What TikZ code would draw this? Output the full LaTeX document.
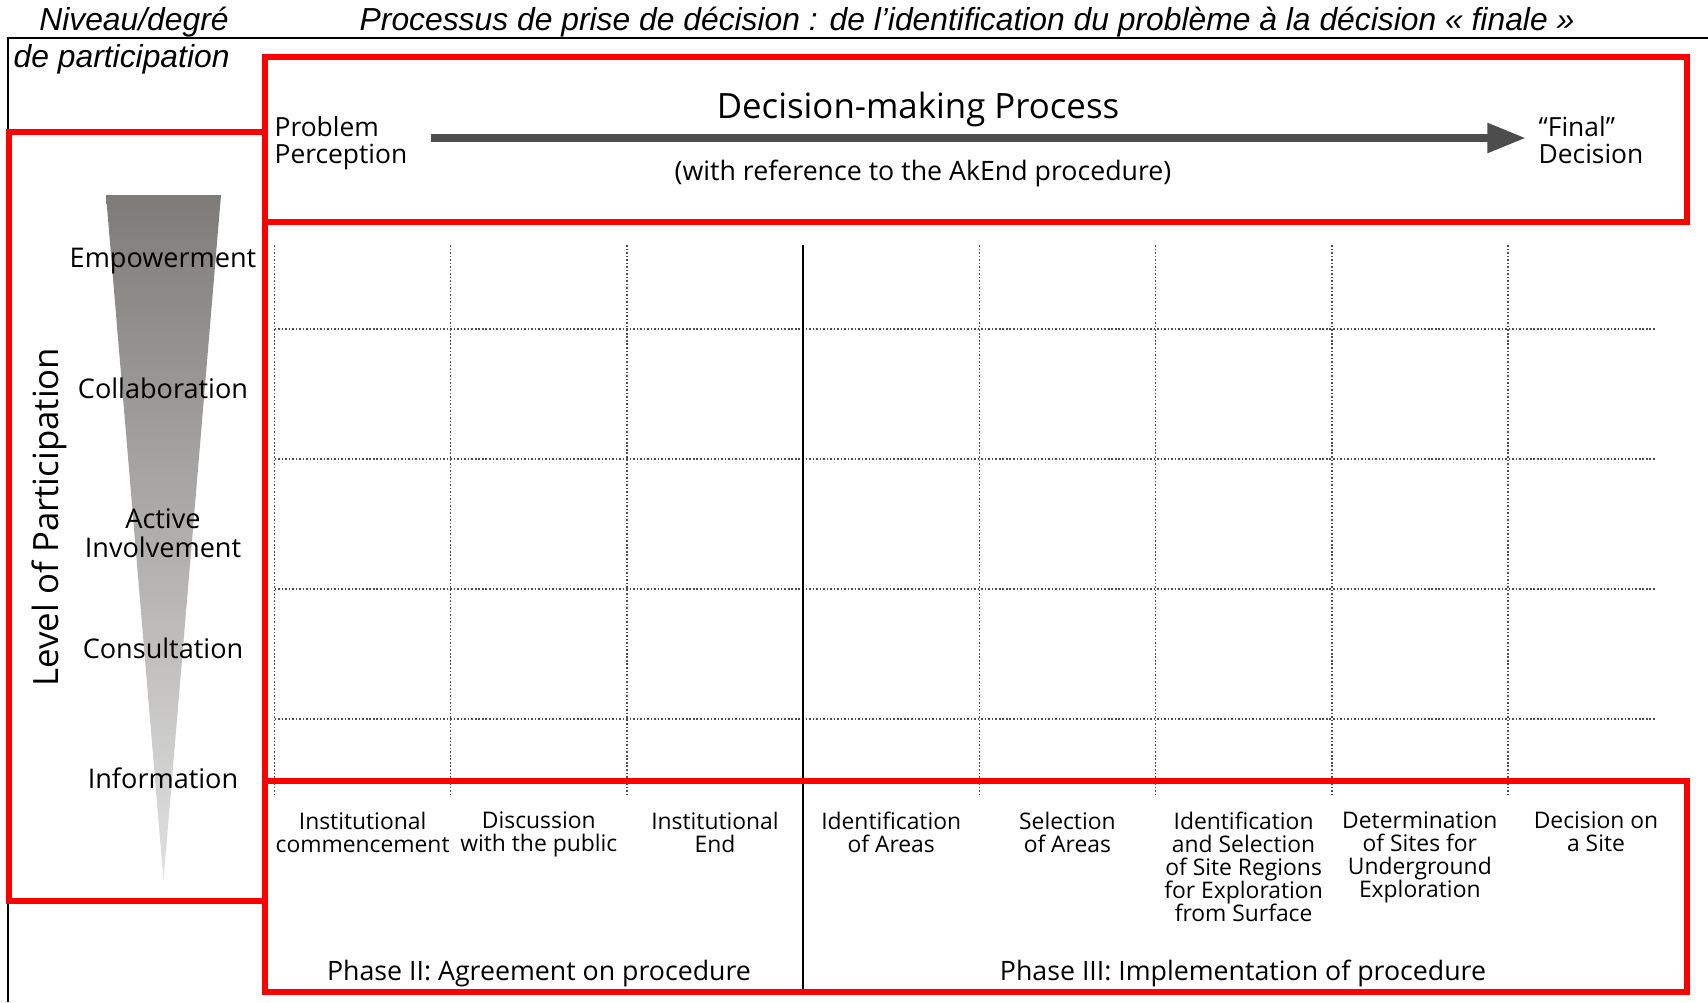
\documentclass[tikz,border=0pt]{standalone}
\usepackage{fontspec}
\setmainfont{Open Sans}
\newfontfamily\frfont{Liberation Sans}
\usetikzlibrary{arrows.meta}
\definecolor{framered}{RGB}{255,0,0}
\definecolor{gridgray}{RGB}{80,80,80}
\definecolor{arrowgray}{RGB}{77,77,77}
\definecolor{wedgetop}{RGB}{126,123,120}
\definecolor{wedgemid}{RGB}{145,145,145}
\definecolor{wedgebot}{RGB}{225,225,225}

\begin{document}
\begin{tikzpicture}[x=0.01cm, y=-0.01cm,
	redbox/.style={draw=framered, line width=1.5pt},
	griddot/.style={draw=gridgray, line width=0.45pt, dash pattern=on 0.45pt off 0.55pt},
	frtext/.style={font=\frfont\itshape\fontsize{9.05}{10}\selectfont, inner sep=0pt},
	levellab/.style={font=\fontsize{7.7}{8.2}\selectfont, inner sep=0pt, anchor=base, align=center},
	steplab/.style={font=\fontsize{6.5}{6.55}\selectfont\setlength{\lineskiplimit}{-5pt}, inner sep=0pt, anchor=north, align=center},
	phaselab/.style={font=\fontsize{7.6}{8}\selectfont, inner sep=0pt, anchor=base},
	endlab/.style={font=\fontsize{7.5}{7.4}\selectfont, inner sep=0pt, anchor=base west, align=left},
	procarrow/.style={draw=arrowgray, line width=2.3pt, -{Triangle[length=11pt,width=8pt]}}]
	\useasboundingbox (0,0) rectangle (1708,1002);
	\draw[line width=0.6pt] (8,1002) -- (8,38) -- (1708,38);
	\node[frtext, anchor=base] (niv) at (134,30) {Niveau/degré};
	\node[frtext, anchor=base west] (part) at (13,67) {de participation};
	\node[frtext, anchor=base west] (proc) at (359,30) {Processus de prise de décision : de l’identification du problème à la décision « finale »};

	\shade[top color=wedgetop, middle color=wedgemid, bottom color=wedgebot] (106,195) -- (221,195) -- (163.5,880) -- cycle;
	\foreach \nm/\y/\lab in {emp/267/Empowerment, coll/398/Collaboration, act/557/{Active\\Involvement}, cons/658/Consultation, info/788/Information}
		\node[levellab] (\nm) at (163,\y) {\lab};
	\node[font=\fontsize{9.9}{10}\selectfont, inner sep=0pt, rotate=90] (lop) at (49,517) {Level of Participation};

	\node[font=\fontsize{9.9}{11}\selectfont, inner sep=0pt, anchor=base] (dmp) at (918,118) {Decision-making Process};
	\node[font=\fontsize{7.6}{8}\selectfont, inner sep=0pt, anchor=base] (akend) at (923,180) {(with reference to the AkEnd procedure)};
	\node[endlab] (prob) at (274,163) {Problem\\Perception};
	\node[endlab] (fin) at (1538,163) {“Final”\\Decision};
	\coordinate (arrS) at (431,138);
	\coordinate (arrE) at (1526,138);
	\draw[procarrow] (arrS) -- (arrE);

	\foreach \i in {0,1,2,4,5,6,7}
		\draw[griddot] (274.5+176.2*\i,245) -- (274.5+176.2*\i,795);
	\foreach \y in {329,459,589,719}
		\draw[griddot] (274.5,\y) -- (1656,\y);
	\draw[line width=0.7pt] (802.8,245) -- (802.8,990);

	\foreach \txt [count=\k] in {Institutional\\commencement, Discussion\\with the public, Institutional\\End, Identification\\of Areas, Selection\\of Areas, Identification\\and Selection\\of Site Regions\\for Exploration\\from Surface, Determination\\of Sites for\\Underground\\Exploration, Decision on\\a Site}
		\node[steplab] (step\k) at (362.6+176.2*\k-176.2,811) {\txt};
	\node[phaselab] (ph2) at (539,980) {Phase II: Agreement on procedure};
	\node[phaselab] (ph3) at (1243,980) {Phase III: Implementation of procedure};

	\draw[redbox] (265,57) rectangle (1687,222);
	\draw[redbox] (9,132) rectangle (265,901);
	\draw[redbox] (265,781) rectangle (1687,992);
\end{tikzpicture}
\end{document}
